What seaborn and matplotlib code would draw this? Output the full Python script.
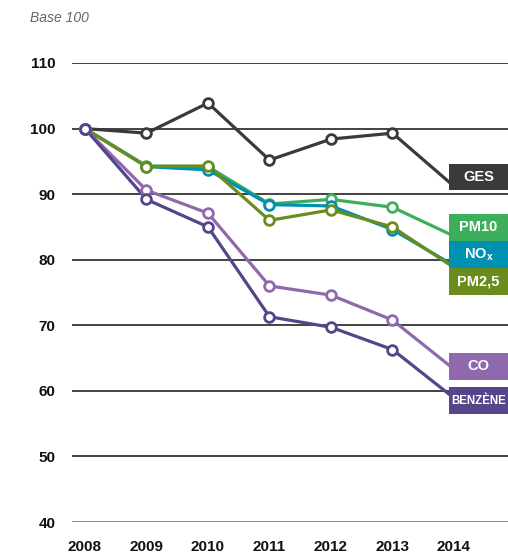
import matplotlib
matplotlib.use("Agg")
import matplotlib.pyplot as plt
import seaborn as sns
import pandas as pd
from matplotlib.patches import Rectangle

years = [2008, 2009, 2010, 2011, 2012, 2013, 2014]
ges = [100, 99.3, 103.9, 95.2, 98.4, 99.3, 91.2]
pm10 = [100, 94.3, 94.2, 88.5, 89.2, 88.0, 83.6]
nox = [100, 94.2, 93.7, 88.4, 88.2, 84.6, 79.1]
pm25 = [100, 94.2, 94.3, 86.0, 87.6, 85.0, 78.8]
co = [100, 90.6, 87.1, 76.0, 74.6, 70.8, 63.3]
benzene = [100, 89.2, 85.0, 71.3, 69.7, 66.3, 58.9]

series_names = ["GES", "PM10", "NOx", "PM2,5", "CO", "BENZÈNE"]
series_vals = [ges, pm10, nox, pm25, co, benzene]
label_texts = ["GES", "PM10", "NO$_\\mathregular{x}$", "PM2,5", "CO", "BENZÈNE"]
yticks = [40, 50, 60, 70, 80, 90, 100, 110]
colors = ["#3a3a3a", "#3daf5a", "#0090b2", "#6a8c1c", "#9068ad", "#55458a"]

sns.set_theme(style="white")
plt.rcParams["font.family"] = ["Liberation Sans", "DejaVu Sans"]
plt.rcParams["mathtext.default"] = "regular"
plt.rcParams["mathtext.fontset"] = "custom"
plt.rcParams["mathtext.rm"] = "Liberation Sans:bold"

rows = []
for n, v in zip(series_names, series_vals):
    for y, val in zip(years, v):
        rows.append({"year": y, "value": val, "series": n})
df = pd.DataFrame(rows)

W, H = 508, 558
fig = plt.figure(figsize=(W / 100, H / 100), dpi=100)
x0, x1 = 72, 508
ytop, ybot = 63, 522
ax = fig.add_axes([x0 / W, 1 - ybot / H, (x1 - x0) / W, (ybot - ytop) / H])

for yv in yticks:
    ax.axhline(yv, color="#222222" if yv != 40 else "#777777", lw=1.2, zorder=0)

palette = dict(zip(series_names, colors))
sns.lineplot(data=df, x="year", y="value", hue="series", palette=palette,
             hue_order=series_names, lw=2.3, legend=False, ax=ax, zorder=2)
for n, v, c in zip(series_names, series_vals, colors):
    ax.plot(years[:-1], v[:-1], ls="none", marker="o", ms=7, mfc="white",
            mec=c, mew=2.0, zorder=3)

px_per = 61.5
ax.set_xlim(2008 - 13 / px_per, 2014 + 54 / px_per)
ax.set_ylim(40, 110)
for s in ax.spines.values():
    s.set_visible(False)
ax.set_yticks(yticks)
ax.set_yticklabels([str(t) for t in yticks], fontsize=11, fontweight="bold", color="#111111")
ax.set_xticks(years)
ax.set_xticklabels([str(y) for y in years], fontsize=11, fontweight="bold", color="#111111")
ax.tick_params(axis="y", length=0, pad=12)
ax.tick_params(axis="x", length=0, pad=13)
ax.set_xlabel("")
ax.set_ylabel("")

fig.text(30 / W, 1 - 18 / H, "Base 100", fontsize=10, style="italic",
         color="#666666", va="center", ha="left")

boxes = [(164, 190), (214, 241), (241, 268), (268, 295), (353, 380), (387, 414)]
for (t, b), txt, c in zip(boxes, label_texts, colors):
    fig.patches.append(Rectangle((449 / W, 1 - b / H), (W - 449) / W, (b - t) / H,
                                 transform=fig.transFigure, facecolor=c,
                                 edgecolor="none", zorder=5))
    fs = 10.5 if txt != "BENZÈNE" else 8.3
    fig.text((449 + W) / 2 / W, 1 - (t + b) / 2 / H, txt, color="white",
             fontsize=fs, fontweight="bold", ha="center", va="center", zorder=6)

fig.savefig("out.png", dpi=100)
